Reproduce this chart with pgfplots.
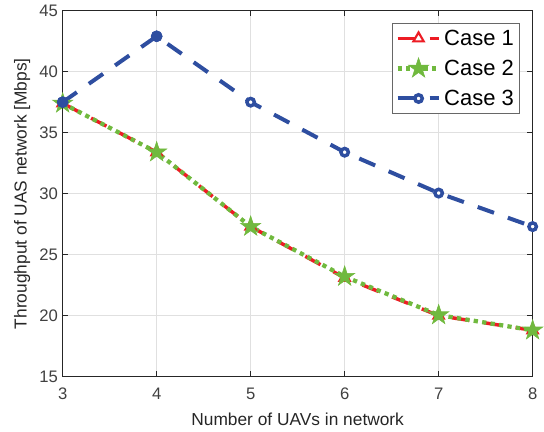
\documentclass[border=0pt]{standalone}
\usepackage{fontspec}
\setmainfont{Liberation Sans}
\usepackage{pgfplots}
\pgfplotsset{compat=1.18}
\definecolor{c1}{RGB}{237,28,36}
\definecolor{c2}{RGB}{112,185,62}
\definecolor{c3}{RGB}{46,78,160}
\definecolor{axgray}{RGB}{38,38,38}
\definecolor{tickgray}{RGB}{64,64,64}
\pgfdeclareplotmark{pentastar}{%
  \pgfpathmoveto{\pgfpointpolar{90}{\pgfplotmarksize}}%
  \pgfpathlineto{\pgfpointpolar{126}{0.382\pgfplotmarksize}}%
  \pgfpathlineto{\pgfpointpolar{162}{\pgfplotmarksize}}%
  \pgfpathlineto{\pgfpointpolar{198}{0.382\pgfplotmarksize}}%
  \pgfpathlineto{\pgfpointpolar{234}{\pgfplotmarksize}}%
  \pgfpathlineto{\pgfpointpolar{270}{0.382\pgfplotmarksize}}%
  \pgfpathlineto{\pgfpointpolar{306}{\pgfplotmarksize}}%
  \pgfpathlineto{\pgfpointpolar{342}{0.382\pgfplotmarksize}}%
  \pgfpathlineto{\pgfpointpolar{18}{\pgfplotmarksize}}%
  \pgfpathlineto{\pgfpointpolar{54}{0.382\pgfplotmarksize}}%
  \pgfpathclose
  \pgfusepathqfillstroke}
\begin{document}
\begin{tikzpicture}
\begin{axis}[
  scale only axis, width=352.5pt, height=274.5pt,
  xmin=3, xmax=8, ymin=15, ymax=45,
  xtick={3,4,5,6,7,8}, ytick={15,20,25,30,35,40,45},
  grid=major, grid style={black!12, line width=0.5pt},
  axis line style={axgray, line width=0.8pt},
  tick style={axgray, line width=0.6pt},
  tick align=inside, major tick length=4pt,
  ticklabel style={font=\fontsize{12.5}{14}\selectfont, text=tickgray},
  xticklabel style={yshift=-5pt},
  /pgf/number format/assume math mode=true,
  xlabel={Number of UAVs in network},
  ylabel={Throughput of UAS network [Mbps]},
  label style={font=\fontsize{13}{15}\selectfont, text=axgray},
  xlabel style={yshift=-3pt},
  legend style={at={(rel axis cs:1,1)}, anchor=north east, xshift=-9.75pt, yshift=-9pt,
    font=\fontsize{16.5}{18}\selectfont, draw=axgray!70, line width=0.6pt,
    inner xsep=2pt, inner ysep=3pt, row sep=5.5pt},
  legend cell align=left,
  legend image code/.code={\draw[mark repeat=2,mark phase=2] plot coordinates {(0cm,0cm) (0.55cm,0cm) (1.1cm,0cm)};},
]
\addplot[c1, line width=2.6pt, dash pattern=on 13pt off 11pt, mark=triangle*, mark size=4.5pt,
  mark options={solid, fill=white, line width=1.6pt}]
  coordinates {(3,37.4)(4,33.4)(5,27.3)(6,23.1)(7,20.0)(8,18.8)};
\addlegendentry{Case 1}
\addplot[c2, line width=3.2pt, dash pattern=on 3.2pt off 3.2pt, mark=pentastar, mark size=8pt,
  mark options={solid, fill=c2, line width=0.4pt}]
  coordinates {(3,37.4)(4,33.4)(5,27.3)(6,23.2)(7,20.05)(8,18.8)};
\addlegendentry{Case 2}
\addplot[c3, line width=3pt, dash pattern=on 13pt off 11pt, mark=*, mark size=2.8pt,
  mark options={solid, fill=white, line width=2.6pt}]
  coordinates {(3,37.5)(4,42.9)(5,37.5)(6,33.4)(7,30.05)(8,27.3)};
\addlegendentry{Case 3}
\addplot[c3, only marks, mark=*, mark size=4.2pt, forget plot]
  coordinates {(3,37.5)(4,42.9)};
\end{axis}
\pgfresetboundingbox
\path (-47pt,-41.5pt) rectangle (361pt,282.5pt);
\end{tikzpicture}
\end{document}
